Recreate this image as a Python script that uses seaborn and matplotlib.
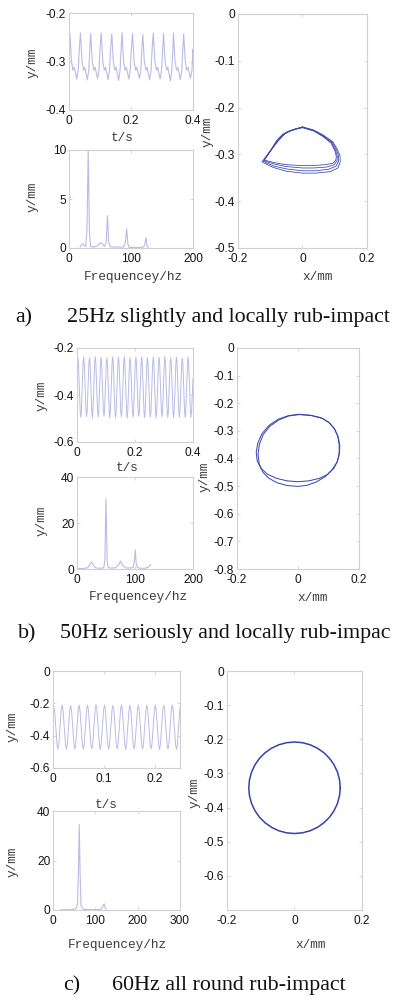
import numpy as np
import pandas as pd
import matplotlib
matplotlib.use("Agg")
import matplotlib.pyplot as plt
import matplotlib.transforms as mtransforms
import seaborn as sns

# ---------------- data ----------------
# (a) 25 Hz: time series (peak times / levels, per-cycle shape), spectrum, orbit
ts_a_peak_t = [0.003, 0.037, 0.070, 0.104, 0.138, 0.171, 0.205, 0.238, 0.272, 0.305, 0.337, 0.370]
ts_a_peak_y = [-0.243, -0.241, -0.242, -0.241, -0.243, -0.241, -0.242, -0.244, -0.241, -0.242, -0.241, -0.243]
ts_a_trough_y = [-0.336, -0.338, -0.335, -0.337, -0.339, -0.336, -0.335, -0.338, -0.336, -0.340, -0.337, -0.335]
ts_a_period = 0.0334
ts_a_after_phase = [0.15, 0.30, 0.42]
ts_a_after_y = [-0.300, -0.318, -0.312]
ts_a_trough_phase = 0.66
ts_a_before_phase = [0.80, 0.90]
ts_a_before_y = [-0.318, -0.275]
ts_a_start = (0.0, -0.250)
ts_a_end = (0.4, -0.300)

sp_a_f = [18, 20, 22, 24, 27, 29, 31, 33, 35, 40, 45, 50, 52, 54, 57, 60, 62, 64, 66, 70, 80,
          88, 91, 93, 95, 97, 105, 115, 120, 122, 124, 126, 128]
sp_a_amp = [0.1, 0.3, 0.45, 0.3, 0.15, 2.0, 9.9, 1.5, 0.15, 0.1, 0.2, 0.45, 0.55, 0.4, 0.15, 0.6, 3.3,
            0.6, 0.15, 0.1, 0.1, 0.1, 0.6, 1.95, 0.4, 0.05, 0.05, 0.05, 0.1, 0.3, 1.05, 0.2, 0.05]

orb_a_x = [
    [0.000, 0.035, 0.065, 0.094, 0.108, 0.116, 0.117, 0.110, 0.085, 0.040, 0.000, -0.050, -0.090, -0.115, -0.125, -0.118, -0.100, -0.075, -0.055, -0.040, -0.025, 0.000],
    [0.000, 0.035, 0.065, 0.092, 0.105, 0.112, 0.112, 0.104, 0.080, 0.040, 0.000, -0.050, -0.088, -0.112, -0.122, -0.112, -0.095, -0.080, -0.062, -0.042, -0.022, 0.000],
    [0.000, 0.035, 0.063, 0.090, 0.102, 0.108, 0.107, 0.098, 0.075, 0.035, 0.000, -0.050, -0.085, -0.110, -0.120, -0.108, -0.090, -0.072, -0.055, -0.038, -0.020, 0.000],
    [0.000, 0.034, 0.062, 0.089, 0.100, 0.105, 0.103, 0.094, 0.070, 0.030, 0.000, -0.050, -0.085, -0.108, -0.118, -0.110, -0.098, -0.083, -0.065, -0.045, -0.022, 0.000],
]
orb_a_y = [
    [-0.241, -0.248, -0.259, -0.273, -0.289, -0.302, -0.316, -0.329, -0.337, -0.340, -0.340, -0.336, -0.328, -0.320, -0.316, -0.309, -0.293, -0.271, -0.256, -0.250, -0.246, -0.241],
    [-0.242, -0.249, -0.260, -0.274, -0.290, -0.303, -0.315, -0.325, -0.332, -0.335, -0.335, -0.331, -0.325, -0.318, -0.314, -0.305, -0.287, -0.270, -0.257, -0.250, -0.246, -0.242],
    [-0.243, -0.250, -0.261, -0.275, -0.291, -0.304, -0.314, -0.322, -0.327, -0.329, -0.329, -0.326, -0.321, -0.316, -0.313, -0.300, -0.283, -0.267, -0.256, -0.250, -0.246, -0.243],
    [-0.242, -0.249, -0.261, -0.276, -0.292, -0.305, -0.313, -0.319, -0.322, -0.324, -0.324, -0.322, -0.318, -0.314, -0.312, -0.304, -0.292, -0.276, -0.261, -0.252, -0.246, -0.242],
]

# (b) 50 Hz
ts_b_peak_t = [0.003, 0.023, 0.043, 0.063, 0.083, 0.103, 0.123, 0.143, 0.163, 0.183,
               0.203, 0.223, 0.243, 0.263, 0.283, 0.303, 0.323, 0.343, 0.363, 0.383]
ts_b_peak_y = [-0.240, -0.238, -0.241, -0.237, -0.240, -0.243, -0.238, -0.240, -0.236, -0.241,
               -0.239, -0.237, -0.242, -0.238, -0.240, -0.236, -0.241, -0.239, -0.243, -0.238]
ts_b_trough_y = [-0.495, -0.492, -0.498, -0.494, -0.490, -0.497, -0.495, -0.493, -0.499, -0.494,
                 -0.491, -0.496, -0.494, -0.498, -0.492, -0.495, -0.497, -0.493, -0.496, -0.494]
ts_b_period = 0.02
ts_b_shoulder_hi = -0.264
ts_b_shoulder_lo = -0.471
ts_b_start = (0.0, -0.250)
ts_b_end = (0.4, -0.330)

sp_b_f = [3, 10, 18, 22, 25, 28, 32, 40, 46, 48, 50, 52, 54, 58, 66, 72, 75, 78, 84, 92,
          97, 99, 100.5, 102, 104, 110, 117, 122, 126, 127]
sp_b_amp = [0.2, 0.2, 0.5, 1.8, 3.0, 1.8, 0.5, 0.3, 0.5, 3.5, 30.5, 3.0, 0.6, 0.4, 0.5, 1.8, 3.5, 1.8,
            0.5, 0.4, 0.8, 3.5, 8.3, 2.5, 0.6, 0.3, 0.3, 0.7, 1.5, 2.0]

orb_b_x = [
    [0.000, 0.040, 0.075, 0.100, 0.118, 0.130, 0.135, 0.135, 0.130, 0.118, 0.098, 0.070, 0.035, 0.000,
     -0.035, -0.070, -0.100, -0.122, -0.134, -0.137, -0.132, -0.118, -0.095, -0.065, -0.032, 0.000],
    [0.005, 0.045, 0.080, 0.104, 0.121, 0.132, 0.137, 0.136, 0.128, 0.112, 0.090, 0.060, 0.030, 0.000,
     -0.035, -0.068, -0.095, -0.115, -0.127, -0.131, -0.127, -0.114, -0.092, -0.062, -0.030, 0.005],
]
orb_b_y = [
    [-0.240, -0.243, -0.252, -0.268, -0.290, -0.318, -0.348, -0.378, -0.408, -0.435, -0.457, -0.472, -0.481, -0.484,
     -0.481, -0.472, -0.457, -0.435, -0.408, -0.378, -0.345, -0.310, -0.280, -0.258, -0.245, -0.240],
    [-0.241, -0.245, -0.255, -0.272, -0.295, -0.323, -0.353, -0.383, -0.413, -0.440, -0.465, -0.485, -0.497, -0.501,
     -0.498, -0.488, -0.472, -0.450, -0.420, -0.385, -0.350, -0.313, -0.283, -0.260, -0.246, -0.241],
]

# (c) 60 Hz
ts_c_peak_t = [0.0013, 0.0180, 0.0347, 0.0513, 0.0680, 0.0847, 0.1013, 0.1180, 0.1347, 0.1513,
               0.1680, 0.1847, 0.2013, 0.2180, 0.2347]
ts_c_peak_y = [-0.212, -0.210, -0.213, -0.211, -0.212, -0.209, -0.212, -0.213, -0.210, -0.212,
               -0.211, -0.213, -0.210, -0.212, -0.211]
ts_c_trough_y = [-0.483, -0.485, -0.482, -0.484, -0.481, -0.485, -0.483, -0.482, -0.486, -0.483,
                 -0.484, -0.482, -0.485, -0.483, -0.484]
ts_c_period = 0.01667
ts_c_shoulder_hi = -0.238
ts_c_shoulder_lo = -0.457
ts_c_start = (0.0, -0.215)
ts_c_end = (0.25, -0.220)

sp_c_f = [17, 30, 45, 52, 56, 58, 60, 62, 64, 66, 68, 72, 80, 95, 110, 115, 118, 121, 123, 126]
sp_c_amp = [0.1, 0.1, 0.2, 0.4, 1.0, 3.0, 15.0, 34.6, 15.0, 2.0, 1.0, 0.3, 0.2, 0.1, 0.2, 0.6, 1.5, 2.5, 1.0, 0.3]

orb_c_x = [0.1355, 0.1334, 0.1273, 0.1173, 0.1038, 0.0871, 0.0678, 0.0463, 0.0235, 0.0,
           -0.0235, -0.0463, -0.0678, -0.0871, -0.1038, -0.1173, -0.1273, -0.1334, -0.1355,
           -0.1334, -0.1273, -0.1173, -0.1038, -0.0871, -0.0678, -0.0463, -0.0235, 0.0,
           0.0235, 0.0463, 0.0678, 0.0871, 0.1038, 0.1173, 0.1273, 0.1334, 0.1355]
orb_c_y = [-0.342, -0.3187, -0.2962, -0.275, -0.2558, -0.2394, -0.226, -0.216, -0.210, -0.208,
           -0.210, -0.216, -0.226, -0.2394, -0.2558, -0.275, -0.2962, -0.3187, -0.342,
           -0.3653, -0.3878, -0.409, -0.4282, -0.4446, -0.458, -0.468, -0.474, -0.476,
           -0.474, -0.468, -0.458, -0.4446, -0.4282, -0.409, -0.3878, -0.3653, -0.342]

captions = [("a)", "25Hz slightly and locally rub-impact"),
            ("b)", "50Hz seriously and locally rub-impac"),
            ("c)", "60Hz all round rub-impact")]

# ---------------- assemble vertex sequences ----------------
def series_a():
    t, y = [ts_a_start[0]], [ts_a_start[1]]
    for pt, py, ty in zip(ts_a_peak_t, ts_a_peak_y, ts_a_trough_y):
        t.append(pt); y.append(py)
        for ph, v in zip(ts_a_after_phase, ts_a_after_y):
            t.append(pt + ph * ts_a_period); y.append(v)
        t.append(pt + ts_a_trough_phase * ts_a_period); y.append(ty)
        for ph, v in zip(ts_a_before_phase, ts_a_before_y):
            t.append(pt + ph * ts_a_period); y.append(v)
    t.append(ts_a_end[0]); y.append(ts_a_end[1])
    return pd.DataFrame({"t": t, "y": y})


def series_sine(peak_t, peak_y, trough_y, period, hi, lo, start, end):
    t, y = [start[0]], [start[1]]
    for pt, py, ty in zip(peak_t, peak_y, trough_y):
        pts = [(pt, py), (pt + 0.1 * period, hi), (pt + 0.4 * period, lo),
               (pt + 0.5 * period, ty), (pt + 0.6 * period, lo), (pt + 0.9 * period, hi)]
        for a, b in pts:
            if a <= end[0]:
                t.append(a); y.append(b)
    t.append(end[0]); y.append(end[1])
    return pd.DataFrame({"t": t, "y": y})


# ---------------- styling ----------------
sns.set_theme(style="white")
plt.rcParams['font.family'] = ['Liberation Sans', 'DejaVu Sans']
plt.rcParams['axes.unicode_minus'] = False

W, H = 402, 998
fig = plt.figure(figsize=(W / 100, H / 100), dpi=100)
fig.patch.set_facecolor('white')
PX = mtransforms.Affine2D().scale(1 / W, -1 / H).translate(0, 1) + fig.transFigure

LIGHT = '#babbe6'
DARK = '#3543a8'
SPINE = '#d0d0d0'
TICK_FS = 8.6
LAB_FS = 9.2
LAB_FAMILY = ['Liberation Mono', 'DejaVu Sans Mono']
CAP_FS = 15.8


def make_ax(l, t, r, b):
    return fig.add_axes([l / W, 1 - b / H, (r - l) / W, (b - t) / H])


def fmt(v):
    return '%g' % v


def style(ax, xlim, xticks, ylim, yticks, xlabel, xl, ylabel, yl):
    ax.set_xlim(xlim)
    ax.set_ylim(ylim)
    ax.set_xticks(xticks)
    ax.set_xticklabels([fmt(v) for v in xticks])
    ax.set_yticks(yticks)
    ax.set_yticklabels([fmt(v) for v in yticks])
    for s in ax.spines.values():
        s.set_visible(True)
        s.set_color(SPINE)
        s.set_linewidth(0.8)
    ax.tick_params(direction='in', length=2.5, width=0.6, color=SPINE,
                   labelsize=TICK_FS, labelcolor='#151515',
                   top=True, right=True, bottom=True, left=True,
                   labeltop=False, labelright=False)
    ax.tick_params(axis='x', pad=3.5)
    ax.tick_params(axis='y', pad=2.0)
    ax.set_xlabel(xlabel, fontsize=LAB_FS, family=LAB_FAMILY, color='#3a3a3a')
    ax.xaxis.set_label_coords(xl[0], xl[1], transform=PX)
    ax.xaxis.label.set_va('center')
    ax.xaxis.label.set_ha('center')
    ax.set_ylabel(ylabel, fontsize=LAB_FS, family=LAB_FAMILY, color='#3a3a3a')
    ax.yaxis.set_label_coords(yl[0], yl[1], transform=PX)
    ax.yaxis.label.set_va('center')
    ax.yaxis.label.set_ha('center')
    ax.set_facecolor('white')


def line(ax, x, y, color, lw):
    sns.lineplot(x=list(x), y=list(y), ax=ax, color=color, linewidth=lw,
                 estimator=None, sort=False, legend=False)


# ---------- panel (a) ----------
ax = make_ax(69, 13, 193, 110)
d = series_a()
line(ax, d.t, d.y, LIGHT, 0.8)
style(ax, (0, 0.4), [0, 0.2, 0.4], (-0.4, -0.2), [-0.4, -0.3, -0.2],
      't/s', (122, 138), 'y/mm', (33, 63))

ax = make_ax(69, 150, 193, 248)
line(ax, sp_a_f, sp_a_amp, LIGHT, 0.8)
style(ax, (0, 200), [0, 100, 200], (0, 10), [0, 5, 10],
      'Frequencey/hz', (133, 277), 'y/mm', (33, 197))

ax = make_ax(238, 14, 367, 248)
for xs, ys in zip(orb_a_x, orb_a_y):
    line(ax, xs, ys, DARK, 0.55)
style(ax, (-0.2, 0.2), [-0.2, 0, 0.2], (-0.5, 0), [-0.5, -0.4, -0.3, -0.2, -0.1, 0],
      'x/mm', (318, 277), 'y/mm', (208, 132))

# ---------- panel (b) ----------
ax = make_ax(77, 348, 193, 442)
d = series_sine(ts_b_peak_t, ts_b_peak_y, ts_b_trough_y, ts_b_period,
                ts_b_shoulder_hi, ts_b_shoulder_lo, ts_b_start, ts_b_end)
line(ax, d.t, d.y, LIGHT, 0.7)
style(ax, (0, 0.4), [0, 0.2, 0.4], (-0.6, -0.2), [-0.6, -0.4, -0.2],
      't/s', (127, 468), 'y/mm', (42, 396))

ax = make_ax(77, 477, 193, 569)
line(ax, sp_b_f, sp_b_amp, LIGHT, 0.8)
style(ax, (0, 200), [0, 100, 200], (0, 40), [0, 20, 40],
      'Frequencey/hz', (138, 597), 'y/mm', (42, 521))

ax = make_ax(237, 348, 359, 569)
for xs, ys in zip(orb_b_x, orb_b_y):
    line(ax, xs, ys, DARK, 0.7)
style(ax, (-0.2, 0.2), [-0.2, 0, 0.2], (-0.8, 0),
      [-0.8, -0.7, -0.6, -0.5, -0.4, -0.3, -0.2, -0.1, 0],
      'x/mm', (313, 598), 'y/mm', (205, 477))

# ---------- panel (c) ----------
ax = make_ax(53, 671, 180, 768)
d = series_sine(ts_c_peak_t, ts_c_peak_y, ts_c_trough_y, ts_c_period,
                ts_c_shoulder_hi, ts_c_shoulder_lo, ts_c_start, ts_c_end)
line(ax, d.t, d.y, LIGHT, 0.7)
style(ax, (0, 0.25), [0, 0.1, 0.2], (-0.6, 0), [-0.6, -0.4, -0.2, 0],
      't/s', (106, 805), 'y/mm', (13, 727))

ax = make_ax(53, 811, 180, 910)
line(ax, sp_c_f, sp_c_amp, LIGHT, 0.8)
style(ax, (0, 300), [0, 100, 200, 300], (0, 40), [0, 20, 40],
      'Frequencey/hz', (117, 945), 'y/mm', (13, 862))

ax = make_ax(227, 671, 362, 910)
line(ax, orb_c_x, orb_c_y, DARK, 1.1)
style(ax, (-0.2, 0.2), [-0.2, 0, 0.2], (-0.7, 0),
      [-0.6, -0.5, -0.4, -0.3, -0.2, -0.1, 0],
      'x/mm', (311, 945), 'y/mm', (195, 793))

# ---------- captions ----------
cap_pos = [((15, 67), 322), ((18, 60), 638), ((63, 112), 990)]
for (lab, txt), ((xl, xt), yb) in zip(captions, cap_pos):
    fig.text(xl, yb, lab, transform=PX, fontsize=CAP_FS, family=['Liberation Serif', 'DejaVu Serif'],
             va='baseline', ha='left', color='#111111')
    fig.text(xt, yb, txt, transform=PX, fontsize=CAP_FS, family=['Liberation Serif', 'DejaVu Serif'],
             va='baseline', ha='left', color='#111111')

fig.savefig('out.png', dpi=100, facecolor='white')
